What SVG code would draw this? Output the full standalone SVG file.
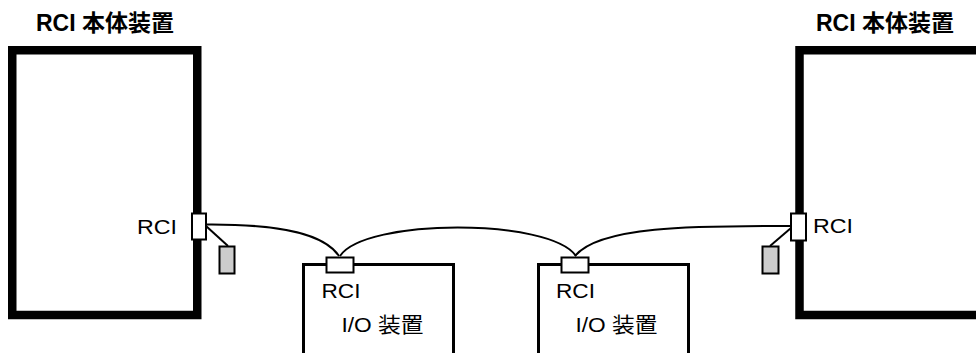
<svg xmlns="http://www.w3.org/2000/svg" width="976" height="353" viewBox="0 0 976 353">
<style>
.main{fill:none;stroke:#000;stroke-width:8.5;stroke-linecap:square;stroke-linejoin:miter}
.io{fill:none;stroke:#000;stroke-width:3}
.conn{fill:#fff;stroke:#000;stroke-width:2}
.plug{fill:#ccc;stroke:#000;stroke-width:2}
.wire{fill:none;stroke:#000;stroke-width:2}
.title{font-family:"Liberation Sans","Noto Sans CJK JP",sans-serif;font-weight:bold;font-size:23px;fill:#000}
.lbl{font-family:"Liberation Sans","Noto Sans CJK JP",sans-serif;font-size:21px;fill:#000}
</style>
<rect width="976" height="353" fill="#fff"/>
<g id="host-left">
<rect class="main" x="12.25" y="50.25" width="185" height="264.75"/>
<text class="title" x="36" y="31">RCI 本体装置</text>
<text class="lbl" x="137" y="234" textLength="40" lengthAdjust="spacingAndGlyphs">RCI</text>
</g>
<g id="host-right">
<path class="main" d="M980,50.25 H799.5 V315 H980"/>
<text class="title" x="816" y="31">RCI 本体装置</text>
<text class="lbl" x="813" y="233" textLength="40" lengthAdjust="spacingAndGlyphs">RCI</text>
</g>
<g id="io-1">
<path class="io" d="M303.5,356 V264.5 H453.5 V356"/>
<text class="lbl" x="321.5" y="298" textLength="39" lengthAdjust="spacingAndGlyphs">RCI</text>
<text class="lbl" x="341.5" y="332" textLength="82" lengthAdjust="spacingAndGlyphs">I/O 装置</text>
</g>
<g id="io-2">
<path class="io" d="M538.5,356 V264.5 H688.5 V356"/>
<text class="lbl" x="556" y="298" textLength="39" lengthAdjust="spacingAndGlyphs">RCI</text>
<text class="lbl" x="575.5" y="332" textLength="82" lengthAdjust="spacingAndGlyphs">I/O 装置</text>
</g>
<g id="connectors">
<path class="wire" d="M207,224.5 C285,224 325,235 339,256"/>
<path class="wire" d="M340,256 C365,218 550,218 576,256"/>
<path class="wire" d="M575,256 C600,225 700,226 791,226"/>
<path class="wire" d="M206,226 L228,246"/>
<path class="wire" d="M791,228 L770,246"/>
</g>
<g id="port-left">
<rect class="conn" x="192" y="213.5" width="14" height="26"/>
<rect class="plug" x="219.5" y="246.5" width="15" height="27"/>
</g>
<g id="port-right">
<rect class="conn" x="791" y="213.5" width="15" height="27"/>
<rect class="plug" x="762.5" y="246.5" width="16" height="27"/>
</g>
<g id="port-io-1">
<rect class="conn" x="326.5" y="257.5" width="27" height="15"/>
</g>
<g id="port-io-2">
<rect class="conn" x="561.5" y="257.5" width="27" height="15"/>
</g>
</svg>
